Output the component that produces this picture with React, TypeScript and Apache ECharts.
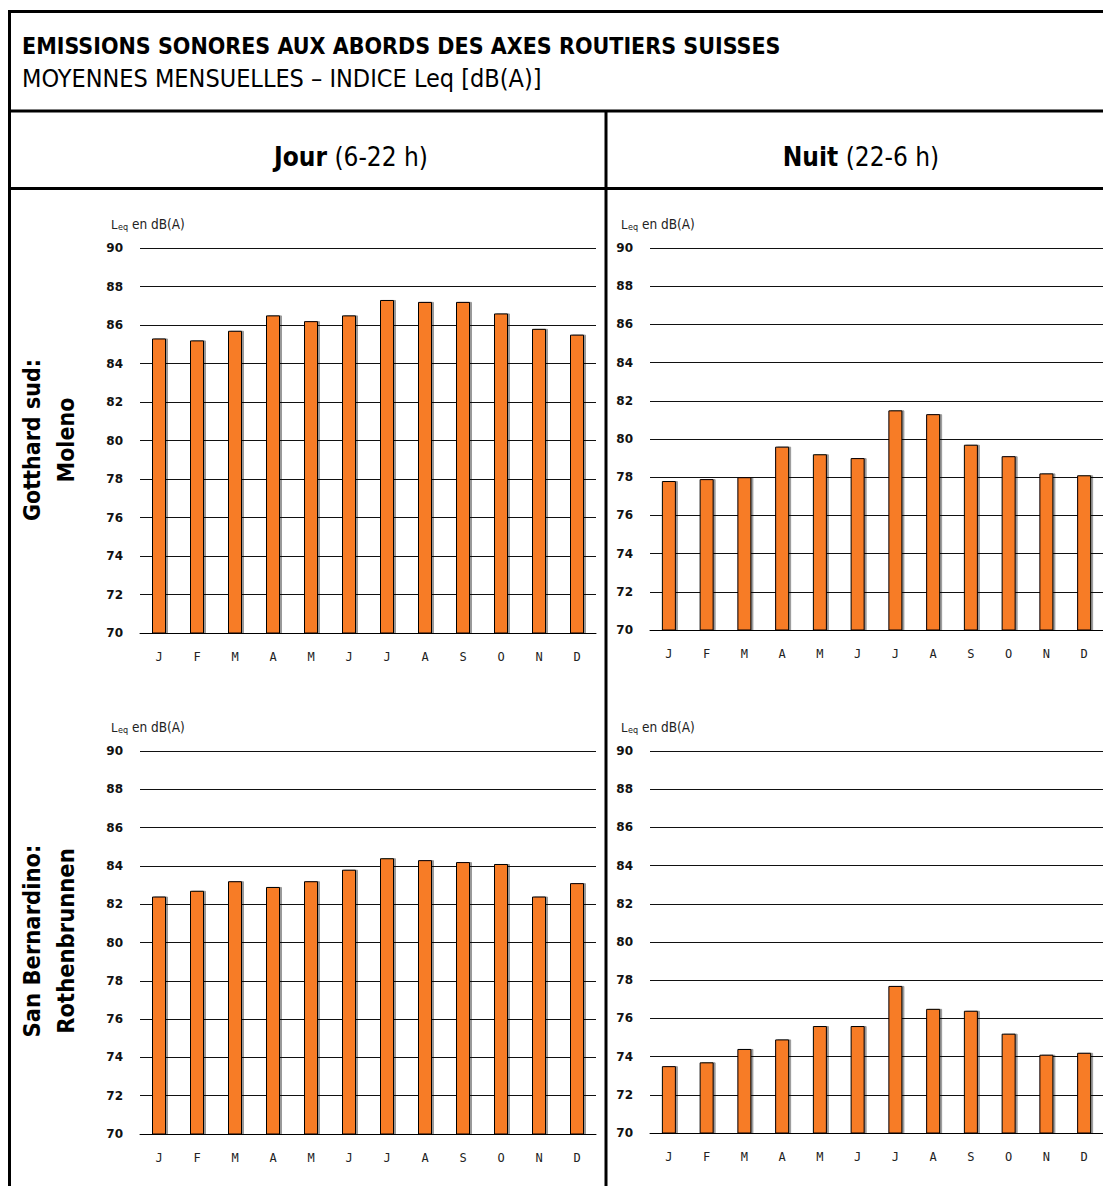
import React, { useEffect, useRef } from "react";
import * as echarts from "echarts";

const months = ["J", "F", "M", "A", "M", "J", "J", "A", "S", "O", "N", "D"];
const yTicksMin = 70;
const yTicksMax = 90;
const yTickStep = 2;

const gotthardJour = [85.3, 85.2, 85.7, 86.5, 86.2, 86.5, 87.3, 87.2, 87.2, 86.6, 85.8, 85.5];
const gotthardNuit = [77.8, 77.9, 78.0, 79.6, 79.2, 79.0, 81.5, 81.3, 79.7, 79.1, 78.2, 78.1];
const sanBernJour = [82.4, 82.7, 83.2, 82.9, 83.2, 83.8, 84.4, 84.3, 84.2, 84.1, 82.4, 83.1];
const sanBernNuit = [73.5, 73.7, 74.4, 74.9, 75.6, 75.6, 77.7, 76.5, 76.4, 75.2, 74.1, 74.2];

const title = "EMISSIONS SONORES AUX ABORDS DES AXES ROUTIERS SUISSES";
const subtitle = "MOYENNES MENSUELLES – INDICE Leq [dB(A)]";
const colHeaders = [
  { bold: "Jour", normal: " (6-22 h)" },
  { bold: "Nuit", normal: " (22-6 h)" },
];
const rowLabels = [
  ["Gotthard sud:", "Moleno"],
  ["San Bernardino:", "Rothenbrunnen"],
];

const FONT = "'DejaVu Sans Condensed', 'DejaVu Sans', sans-serif";
const MONO = "'DejaVu Sans Mono', monospace";
const ORANGE = "#f77b28";

export default function App() {
  const ref = useRef<HTMLDivElement>(null);
  useEffect(() => {
    if (!ref.current) return;
    const chart = echarts.init(ref.current, undefined, { renderer: "svg" });

    const grids = [
      { left: 140, top: 248, width: 456, height: 385 },
      { left: 650, top: 248, width: 453, height: 382 },
      { left: 140, top: 751, width: 456, height: 383 },
      { left: 650, top: 751, width: 453, height: 382 },
    ];
    const datasets = [gotthardJour, gotthardNuit, sanBernJour, sanBernNuit];

    const xAxis = grids.map((_, i) => ({
      type: "category",
      gridIndex: i,
      data: months,
      axisLine: { show: true, lineStyle: { color: "#000", width: 1 } },
      axisTick: { show: false },
      axisLabel: {
        margin: 18,
        fontFamily: MONO,
        fontSize: 12,
        color: "#222",
      },
    }));
    const yAxis = grids.map((_, i) => ({
      type: "value",
      gridIndex: i,
      min: yTicksMin,
      max: yTicksMax,
      interval: yTickStep,
      axisLine: { show: false },
      axisTick: { show: false },
      axisLabel: {
        margin: 17,
        fontFamily: "'DejaVu Sans', sans-serif",
        fontWeight: "bold",
        fontSize: 12,
        color: "#111",
      },
      splitLine: { show: true, lineStyle: { color: "#111", width: 1 } },
    }));
    const series = datasets.map((d, i) => ({
      type: "bar",
      xAxisIndex: i,
      yAxisIndex: i,
      data: d,
      barWidth: 14,
      itemStyle: {
        color: ORANGE,
        borderColor: "#000",
        borderWidth: 1,
        shadowColor: "rgba(0,0,0,0.4)",
        shadowOffsetX: 2,
        shadowOffsetY: 0,
        shadowBlur: 0,
      },
    }));

    const graphic: any[] = [];
    const line = (x1: number, y1: number, x2: number, y2: number, w = 3) =>
      graphic.push({
        type: "line",
        shape: { x1, y1, x2, y2 },
        style: { stroke: "#000", lineWidth: w },
        z: 100,
      });
    line(9.5, 11.5, 1103, 11.5);
    line(9.5, 10, 9.5, 1186);
    line(9.5, 111, 1103, 111);
    line(9.5, 188.5, 1103, 188.5);
    line(606, 111, 606, 1186);

    graphic.push({
      type: "text",
      x: 22,
      y: 46,
      style: {
        text: title,
        font: `bold 23px ${FONT}`,
        fill: "#000",
        textVerticalAlign: "middle",
      },
    });
    graphic.push({
      type: "text",
      x: 22,
      y: 78,
      style: {
        text: subtitle,
        font: `25px ${FONT}`,
        fill: "#000",
        textVerticalAlign: "middle",
      },
    });

    const headerCenters = [351, 861];
    colHeaders.forEach((h, i) => {
      graphic.push({
        type: "text",
        x: headerCenters[i],
        y: 157,
        style: {
          text: `{b|${h.bold}}{n|${h.normal}}`,
          rich: {
            b: { fontFamily: FONT, fontWeight: "bold", fontSize: 26, fill: "#000" },
            n: { fontFamily: FONT, fontSize: 26, fill: "#000" },
          },
          align: "center",
          verticalAlign: "middle",
        },
      });
    });

    const rowCenters = [440, 941];
    rowLabels.forEach((lbl, i) => {
      lbl.forEach((t, j) => {
        graphic.push({
          type: "text",
          x: j === 0 ? 32 : 66,
          y: rowCenters[i],
          rotation: Math.PI / 2,
          style: {
            text: t,
            font: `bold ${i === 0 ? 23 : 23.5}px ${FONT}`,
            fill: "#000",
            align: "center",
            verticalAlign: "middle",
          },
        });
      });
    });

    const unitPos = [
      [111, 224],
      [621, 224],
      [111, 727],
      [621, 727],
    ];
    unitPos.forEach(([x, y]) => {
      graphic.push({
        type: "text",
        x,
        y,
        style: { text: "L", font: `13px ${FONT}`, fill: "#222", verticalAlign: "middle" },
      });
      graphic.push({
        type: "text",
        x: x + 7,
        y: y + 3,
        style: { text: "eq", font: `9px ${FONT}`, fill: "#222", verticalAlign: "middle" },
      });
      graphic.push({
        type: "text",
        x: x + 21,
        y,
        style: { text: "en dB(A)", font: `13.5px ${FONT}`, fill: "#222", verticalAlign: "middle" },
      });
    });

    chart.setOption({
      animation: false,
      backgroundColor: "#fff",
      grid: grids.map((g) => ({ ...g, containLabel: false })),
      xAxis,
      yAxis,
      series,
      graphic,
    });
    return () => chart.dispose();
  }, []);
  return (
    <div
      ref={ref}
      style={{ position: "absolute", left: 0, top: 0, width: 1103, height: 1186 }}
    />
  );
}
